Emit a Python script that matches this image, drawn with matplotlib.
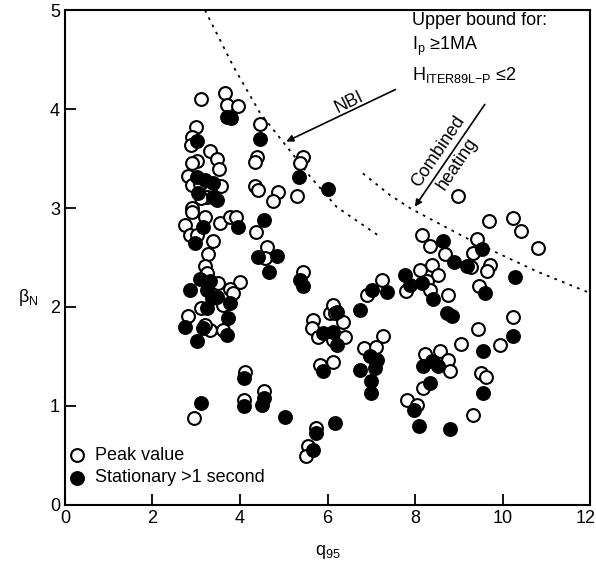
import matplotlib
matplotlib.use("Agg")
import matplotlib.pyplot as plt
from matplotlib.transforms import ScaledTranslation

plt.rcParams["font.family"] = ["Liberation Sans", "DejaVu Sans"]
plt.rcParams["mathtext.fontset"] = "custom"
plt.rcParams["mathtext.rm"] = "Liberation Sans"

# peak values (open circles): q95, beta_N
peak_q = [3.12, 3.66, 3.70, 3.95, 4.46, 2.99, 2.91, 2.88, 3.31, 3.47, 3.51, 3.02, 2.90,
          4.38, 4.35, 5.44, 5.37, 5.30, 2.81, 2.91, 3.09, 3.57, 3.25, 3.12, 2.90, 4.34,
          4.42, 4.87, 4.75, 2.91, 3.20, 2.74, 2.86, 3.01, 3.54, 3.77, 3.92, 4.37, 3.38,
          3.27, 4.61, 4.57, 3.20, 3.24, 3.50, 4.00, 3.77, 3.84, 3.61, 3.12, 2.81, 3.31,
          3.61, 3.20, 5.44, 5.67, 5.64, 5.78, 6.06, 5.83, 4.11, 4.09, 4.55, 2.95, 5.74,
          5.55, 5.52, 6.13, 6.17, 6.35, 6.13, 6.40, 6.12, 7.24, 6.90, 7.27, 6.83, 7.11,
          8.11, 8.38, 8.53, 7.79, 8.27, 8.34, 8.76, 8.23, 8.57, 8.76, 8.80, 8.19, 7.82,
          8.05, 8.98, 9.69, 10.24, 10.42, 10.82, 8.17, 8.34, 8.69, 9.42, 9.32, 9.27, 9.71,
          9.64, 9.47, 9.45, 10.23, 9.06, 9.94, 9.50, 9.62, 9.33]
peak_b = [4.10, 4.16, 4.04, 4.03, 3.85, 3.82, 3.72, 3.64, 3.58, 3.50, 3.39, 3.48, 3.45,
          3.52, 3.46, 3.52, 3.45, 3.12, 3.32, 3.23, 3.24, 3.22, 3.11, 3.10, 3.00, 3.22,
          3.18, 3.16, 3.07, 2.96, 2.91, 2.83, 2.73, 2.73, 2.85, 2.91, 2.91, 2.76, 2.67,
          2.54, 2.61, 2.49, 2.41, 2.34, 2.24, 2.25, 2.18, 2.14, 2.02, 1.99, 1.91, 1.77,
          1.77, 1.82, 2.35, 1.87, 1.79, 1.70, 1.94, 1.41, 1.34, 1.06, 1.15, 0.88, 0.78,
          0.59, 0.49, 2.02, 1.94, 1.85, 1.67, 1.70, 1.44, 2.27, 2.12, 1.71, 1.58, 1.59,
          2.37, 2.42, 2.32, 2.16, 2.26, 2.17, 2.12, 1.52, 1.55, 1.46, 1.35, 1.18, 1.06,
          1.01, 3.12, 2.87, 2.90, 2.77, 2.60, 2.73, 2.62, 2.53, 2.69, 2.55, 2.40, 2.42,
          2.36, 2.21, 1.78, 1.90, 1.63, 1.62, 1.33, 1.29, 0.91]

# stationary > 1 s (filled circles)
stat_q = [3.70, 3.79, 4.46, 3.02, 5.34, 6.00, 3.02, 3.38, 3.20, 3.04, 3.38, 3.47, 4.54,
          3.15, 3.95, 2.98, 4.41, 4.84, 4.66, 3.09, 3.31, 2.86, 3.24, 3.35, 3.24, 3.77,
          3.47, 3.73, 2.74, 3.15, 3.70, 3.01, 5.37, 5.43, 5.90, 5.90, 4.09, 4.09, 4.55,
          4.50, 3.12, 5.04, 5.74, 5.66, 6.21, 6.13, 6.21, 7.02, 7.35, 6.75, 6.97, 7.12,
          6.74, 7.09, 6.99, 6.99, 7.78, 7.89, 8.15, 8.42, 8.72, 8.84, 8.19, 8.34, 7.98,
          8.10, 8.80, 6.17, 8.53, 8.65, 8.88, 9.52, 9.18, 10.29, 9.60, 9.56, 10.25, 9.55,
          8.38]
stat_b = [3.92, 3.91, 3.70, 3.68, 3.31, 3.19, 3.31, 3.25, 3.28, 3.15, 3.11, 3.08, 2.88,
          2.81, 2.81, 2.65, 2.50, 2.51, 2.35, 2.28, 2.26, 2.17, 2.17, 2.09, 1.99, 2.04,
          2.10, 1.89, 1.80, 1.79, 1.72, 1.66, 2.27, 2.21, 1.74, 1.35, 1.28, 1.00, 1.08,
          1.01, 1.03, 0.89, 0.73, 0.55, 1.95, 1.75, 1.62, 2.17, 2.15, 1.97, 1.50, 1.46,
          1.36, 1.38, 1.25, 1.13, 2.32, 2.22, 2.24, 2.08, 1.94, 1.91, 1.40, 1.23, 0.96,
          0.80, 0.77, 0.83, 1.40, 2.67, 2.45, 2.59, 2.41, 2.30, 2.14, 1.55, 1.71, 1.13,
          1.45]

# upper-bound curves
nbi_q = [3.2, 3.85, 4.46, 5.07, 5.6, 6.21, 7.2]
nbi_b = [5.0, 4.43, 3.96, 3.62, 3.32, 3.01, 2.71]
comb_q = [6.81, 7.43, 7.92, 9.33, 10.78, 12.0]
comb_b = [3.35, 3.13, 2.99, 2.66, 2.36, 2.14]

fig = plt.figure(figsize=(5.96, 5.64), dpi=100)
ax = fig.add_axes([0.109, 0.105, 0.881, 0.877])

ax.plot(nbi_q, nbi_b, color="black", lw=1.3, ls=(0, (1.5, 3)))
ax.plot(comb_q, comb_b, color="black", lw=1.3, ls=(0, (1.5, 3)))

ax.scatter(peak_q, peak_b, s=85, facecolor="white", edgecolor="black", lw=1.5, zorder=3,
           label="Peak value")
ax.scatter(stat_q, stat_b, s=85, facecolor="black", edgecolor="black", lw=1.5, zorder=4,
           label="Stationary >1 second")

ax.annotate("", xy=(5.0, 3.66), xytext=(7.61, 4.21),
            arrowprops=dict(arrowstyle="-|>", color="black", lw=1.2, mutation_scale=10))
ax.text(6.5, 4.07, "NBI", rotation=26, ha="center", va="center", fontsize=13)
ax.annotate("", xy=(7.96, 2.99), xytext=(9.63, 4.07),
            arrowprops=dict(arrowstyle="-|>", color="black", lw=1.2, mutation_scale=10))
ax.text(8.76, 3.51, "Combined\nheating", rotation=56, ha="center", va="center",
        fontsize=13, multialignment="center", rotation_mode="anchor", linespacing=1.45)

ax.text(7.93, 4.90, "Upper bound for:", ha="left", va="center", fontsize=13)
ax.text(7.93, 4.63, r"I$_\mathrm{p}$ ≥1MA", ha="left", va="center", fontsize=13)
ax.text(7.93, 4.34, r"H$_\mathrm{ITER89L{-}P}$ ≤2", ha="left", va="center", fontsize=13)

ax.set_xlim(0, 12)
ax.set_ylim(0, 5)
ax.set_xticks(range(0, 13, 2))
ax.set_yticks(range(0, 6))
ax.tick_params(direction="in", length=8, width=1.3, labelsize=13)
for sp in ax.spines.values():
    sp.set_linewidth(1.5)
ax.set_xlabel(r"q$_\mathrm{95}$", fontsize=13, labelpad=12)
ax.set_ylabel(r"β$_\mathrm{N}$", fontsize=13, rotation=0, va="center")
ax.yaxis.set_label_coords(-0.07, 0.42)

# keep the last x tick label inside the canvas
last = ax.get_xticklabels()[-1]
last.set_horizontalalignment("right")
last.set_transform(last.get_transform() + ScaledTranslation(6 / 100, 0, fig.dpi_scale_trans))

ax.legend(loc="lower left", bbox_to_anchor=(0.003, 0.03), frameon=False, fontsize=13,
          handlelength=0.8, handletextpad=0.55, borderaxespad=0, labelspacing=0.3,
          borderpad=0.2, scatterpoints=1)

fig.savefig("out.png", dpi=100)
